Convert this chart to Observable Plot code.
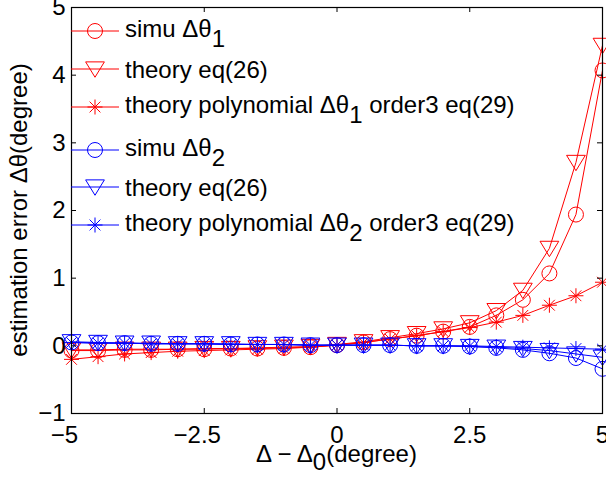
<!DOCTYPE html>
<html>
<head>
<meta charset="utf-8">
<script src="https://cdn.jsdelivr.net/npm/d3@7"></script>
<script src="https://cdn.jsdelivr.net/npm/@observablehq/plot@0.6"></script>
<style>
  html, body { margin: 0; padding: 0; background: #fff; }
  #chart { width: 606px; height: 480px; }
  svg { font-family: "Liberation Sans", Arial, Helvetica, sans-serif; }
</style>
</head>
<body>
<div id="chart"></div>
<script>
// ---- data ----
const xs = [-5, -4.5, -4, -3.5, -3, -2.5, -2, -1.5, -1, -0.5, 0, 0.5, 1, 1.5, 2, 2.5, 3, 3.5, 4, 4.5, 5];
const simu1   = [-0.07, -0.07, -0.06, -0.06, -0.05, -0.05, -0.04, -0.04, -0.03, -0.02, 0.01, 0.05, 0.10, 0.15, 0.21, 0.28, 0.45, 0.68, 1.07, 1.94, 4.07];
const theory1 = [-0.06, -0.06, -0.05, -0.05, -0.05, -0.04, -0.04, -0.03, -0.02, -0.01, 0.02, 0.06, 0.12, 0.18, 0.25, 0.34, 0.52, 0.82, 1.44, 2.71, 4.44];
const poly1   = [-0.20, -0.16, -0.12, -0.10, -0.08, -0.07, -0.06, -0.05, -0.04, -0.02, 0.01, 0.05, 0.10, 0.15, 0.21, 0.27, 0.35, 0.45, 0.60, 0.74, 0.94];
const simu2   = [0.05, 0.04, 0.04, 0.03, 0.03, 0.03, 0.02, 0.02, 0.02, 0.01, 0.01, 0.01, 0.01, 0.00, 0.00, -0.01, -0.03, -0.06, -0.11, -0.18, -0.34];
const theory2 = [0.06, 0.05, 0.04, 0.04, 0.03, 0.03, 0.03, 0.02, 0.02, 0.01, 0.01, 0.01, 0.01, 0.00, 0.00, -0.01, -0.02, -0.04, -0.07, -0.12, -0.17];
const poly2   = [0.05, 0.04, 0.04, 0.03, 0.03, 0.03, 0.02, 0.02, 0.02, 0.01, 0.01, 0.01, 0.01, 0.00, 0.00, 0.00, -0.01, -0.02, -0.03, -0.04, -0.05];

const xTicks = [-5, -2.5, 0, 2.5, 5];
const xTickLabels = ["\u22125", "\u22122.5", "0", "2.5", "5"];
const yTicks = [-1, 0, 1, 2, 3, 4, 5];
const yTickLabels = ["\u22121", "0", "1", "2", "3", "4", "5"];

const seriesNames = ["simu1", "theory1", "poly1", "simu2", "theory2", "poly2"];
const seriesColors = ["#ff0000", "#ff0000", "#ff0000", "#0000ff", "#0000ff", "#0000ff"];
const seriesMarkers = ["circle", "triangle", "star", "circle", "triangle", "star"];
const seriesValues = [simu1, theory1, poly1, simu2, theory2, poly2];

// ---- custom MATLAB-like markers ----
const triDown = {
  draw(ctx, size) {
    const r = Math.sqrt(size / Math.PI);
    ctx.moveTo(-1.25 * r, -0.95 * r);
    ctx.lineTo(1.25 * r, -0.95 * r);
    ctx.lineTo(0, 1.1 * r);
    ctx.closePath();
  }
};
const star = {
  draw(ctx, size) {
    const r = Math.sqrt(size / Math.PI);
    const d = r * 0.72;
    ctx.moveTo(-r, 0); ctx.lineTo(r, 0);
    ctx.moveTo(0, -r); ctx.lineTo(0, r);
    ctx.moveTo(-d, -d); ctx.lineTo(d, d);
    ctx.moveTo(-d, d); ctx.lineTo(d, -d);
  }
};
const circ = {
  draw(ctx, size) {
    const r = Math.sqrt(size / Math.PI);
    ctx.moveTo(r, 0);
    ctx.arc(0, 0, r, 0, 2 * Math.PI);
  }
};
const symbolFor = {circle: circ, triangle: triDown, star: star};

const rows = [];
seriesNames.forEach((name, si) => {
  xs.forEach((x, i) => rows.push({series: name, si, x, y: seriesValues[si][i]}));
});

const FONT = 24;
const W = 606, H = 480;
const mL = 71, mR = 4, mT = 7, mB = 67;
const frameW = W - mL - mR, frameH = H - mT - mB;
const tickLen = 5;

const marks = [];
seriesNames.forEach((name, si) => {
  const d = rows.filter(r => r.si === si);
  marks.push(Plot.line(d, {x: "x", y: "y", stroke: seriesColors[si], strokeWidth: 1}));
  marks.push(Plot.dot(d, {x: "x", y: "y", stroke: seriesColors[si], fill: "none", strokeWidth: 1,
    r: 7.5, symbol: symbolFor[seriesMarkers[si]]}));
});

const xNeg = xTicks.filter(d => d < 0), xPos = xTicks.filter(d => d >= 0);
const xFmt = d => xTickLabels[xTicks.indexOf(d)];

const chart = Plot.plot({
  width: W, height: H,
  marginLeft: mL, marginRight: mR, marginTop: mT, marginBottom: mB,
  style: {fontFamily: '"Liberation Sans", Arial, Helvetica, sans-serif', fontSize: FONT + "px", color: "#000", background: "#fff"},
  x: {domain: [-5, 5], axis: null},
  y: {domain: [-1, 5], axis: null},
  marks: [
    ...marks,
    // inward ticks on all four sides
    Plot.tickX(xTicks, {x: d => d, insetTop: frameH - tickLen, stroke: "#000"}),
    Plot.tickX(xTicks, {x: d => d, insetBottom: frameH - tickLen, stroke: "#000"}),
    Plot.tickY(yTicks, {y: d => d, insetRight: frameW - tickLen, stroke: "#000"}),
    Plot.tickY(yTicks, {y: d => d, insetLeft: frameW - tickLen, stroke: "#000"}),
    // MATLAB centres the digits on the tick, the minus sign hangs to the left
    Plot.axisX(xNeg, {anchor: "bottom", tickSize: 0, tickPadding: 12, fontSize: FONT, dx: -7,
      tickFormat: xFmt, label: null}),
    Plot.axisX(xPos, {anchor: "bottom", tickSize: 0, tickPadding: 12, fontSize: FONT,
      tickFormat: xFmt, label: null}),
    Plot.axisY(yTicks, {anchor: "left", tickSize: 0, tickPadding: 6, fontSize: FONT,
      tickFormat: d => yTickLabels[yTicks.indexOf(d)], label: null}),
    Plot.frame({stroke: "#000", strokeWidth: 1.2})
  ]
});

document.getElementById("chart").appendChild(chart);

// ---- axis titles & legend (drawn into the Plot SVG) ----
const svg = d3.select(chart);
const sx = chart.scale("x");
const xMid = (sx.apply(-5) + sx.apply(5)) / 2;

// x label: Δ − Δ0(degree)
const xl = svg.append("text")
  .attr("x", xMid).attr("y", 462)
  .attr("text-anchor", "middle")
  .attr("font-size", FONT).attr("fill", "#000");
xl.append("tspan").text("\u0394 \u2212 \u0394");
xl.append("tspan").attr("dy", 8).text("0");
xl.append("tspan").attr("dy", -8).text("(degree)");

// y label
svg.append("text")
  .attr("transform", `translate(27,210) rotate(-90)`)
  .attr("text-anchor", "middle")
  .attr("font-size", FONT).attr("fill", "#000")
  .text("estimation error \u0394\u03b8(degree)");

// legend
const legendEntries = [
  {si: 0, parts: [["simu \u0394\u03b8", 0], ["1", 10]]},
  {si: 1, parts: [["theory eq(26)", 0]]},
  {si: 2, parts: [["theory polynomial \u0394\u03b8", 0], ["1", 10], [" order3 eq(29)", 0]]},
  {si: 3, parts: [["simu \u0394\u03b8", 0], ["2", 10]]},
  {si: 4, parts: [["theory eq(26)", 0]]},
  {si: 5, parts: [["theory polynomial \u0394\u03b8", 0], ["2", 10], [" order3 eq(29)", 0]]}
];
const legendY = [31, 69, 107, 150, 187, 225];
const lgX0 = mL, lgX1 = mL + 48, lgXm = mL + 24, lgTx = mL + 54;
const g = svg.append("g");
legendEntries.forEach((e, k) => {
  const y = legendY[k];
  const col = seriesColors[e.si];
  g.append("line").attr("x1", lgX0).attr("x2", lgX1).attr("y1", y).attr("y2", y)
    .attr("stroke", col).attr("stroke-width", 1);
  const sym = symbolFor[seriesMarkers[e.si]];
  g.append("path").attr("transform", `translate(${lgXm},${y})`)
    .attr("d", d3.symbol(sym, 7.5 * 7.5 * Math.PI)())
    .attr("fill", "none").attr("stroke", col).attr("stroke-width", 1);
  const hasSub = e.parts.length > 1;
  const t = g.append("text").attr("x", lgTx).attr("y", y + (hasSub ? 6 : 9))
    .attr("text-anchor", "start")
    .attr("font-size", FONT).attr("fill", "#000");
  let prev = 0;
  e.parts.forEach(([s, off]) => {
    t.append("tspan").attr("dy", off - prev).text(s);
    prev = off;
  });
});
</script>
</body>
</html>
